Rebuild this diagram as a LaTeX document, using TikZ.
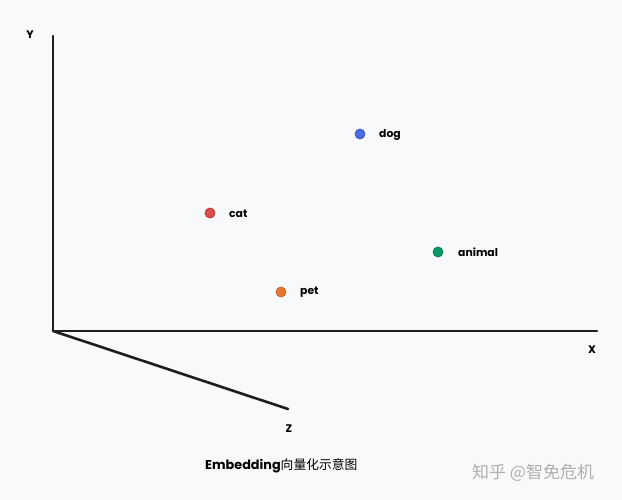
\documentclass[tikz,border=0pt]{standalone}
\usepackage{fontspec}
\setmainfont{Poppins}
\newfontfamily\cjk{Noto Sans CJK SC}
\definecolor{bg}{RGB}{248,249,250}
\definecolor{axis}{RGB}{30,30,30}
\definecolor{dogc}{RGB}{74,108,224}
\definecolor{catc}{RGB}{214,60,60}
\definecolor{animalc}{RGB}{14,150,104}
\definecolor{petc}{RGB}{232,119,46}
\definecolor{wm}{RGB}{175,175,175}
\begin{document}
\begin{tikzpicture}[x=1pt,y=-1pt,
  axisline/.style={draw=axis,line width=2.6pt,line cap=round,line join=round},
  dot/.style={circle,minimum size=10pt,inner sep=0pt,line width=0.8pt},
  lbl/.style={font=\fontsize{10.8}{12}\selectfont\bfseries,text=black,anchor=west,inner sep=0pt},
  axlbl/.style={font=\fontsize{11}{12}\selectfont\bfseries,text=black,inner sep=0pt}]
\fill[bg] (0,0) rectangle (622,500);
\useasboundingbox (0,0) rectangle (622,500);
\coordinate (O) at (53,331);
\coordinate (Ytop) at (53,36);
\coordinate (Xend) at (597,331);
\coordinate (Zend) at (288,409);
\draw[axisline] (Ytop) -- (O) -- (Xend);
\draw[axisline] (O) -- (Zend);
\node[axlbl] (ly) at (30,35) {Y};
\node[axlbl] (lx) at (592,350) {X};
\node[axlbl] (lz) at (289,429) {Z};
\node[dot,fill=dogc,draw=dogc!85!black] (dog) at (360,134) {};
\node[lbl] (tdog) at (379,134.5) {dog};
\node[dot,fill=catc!90!white,draw=catc!85!black] (cat) at (210,213) {};
\node[lbl] (tcat) at (229,213.5) {cat};
\node[dot,fill=animalc,draw=animalc!85!black] (animal) at (438,252) {};
\node[lbl] (tanimal) at (458,252.5) {animal};
\node[dot,fill=petc,draw=petc!85!black] (pet) at (281,292) {};
\node[lbl] (tpet) at (300,292.5) {pet};
\node[anchor=west,inner sep=0pt,font=\fontsize{12.8}{14}\selectfont] (cap) at (205,466) {\textbf{Embedding}{\cjk 向量化示意图}};
\node[anchor=west,inner sep=0pt,text=wm,font=\cjk\fontsize{17}{19}\selectfont] (wmk) at (472,473) {知乎 @智免危机};
\end{tikzpicture}
\end{document}
